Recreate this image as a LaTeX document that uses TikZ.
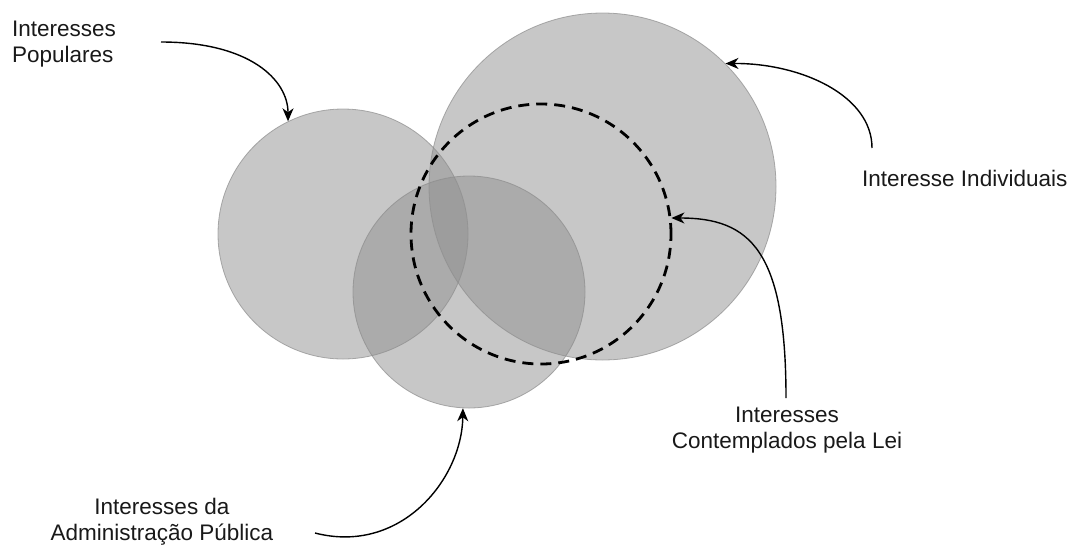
\documentclass[tikz,border=0pt]{standalone}
\usepackage{fontspec}
\setmainfont{Liberation Sans}
\usetikzlibrary{arrows.meta}
\begin{document}
\begin{tikzpicture}[x=1pt,y=-1pt,
  setcircle/.style={circle,inner sep=0pt,fill=black!44,fill opacity=0.5,draw=black!45,draw opacity=0.7,line width=0.8pt},
  lawcircle/.style={circle,inner sep=0pt,draw=black,line width=2.8pt,dash pattern=on 11pt off 7pt},
  lbl/.style={inner sep=0pt,text=black!90,font=\fontsize{22.5}{26}\selectfont},
  pointer/.style={line width=1.4pt,-{Stealth[length=13pt,width=11pt,inset=4pt]}}]
\useasboundingbox (0,0) rectangle (1073,547);
% circles
\node[setcircle,minimum size=250pt] (cpop) at (343,234) {};
\node[setcircle,minimum size=347pt] (cind) at (602.5,186.5) {};
\node[setcircle,minimum size=232pt] (cadm) at (469,292) {};
\node[lawcircle,minimum size=260pt] (clei) at (541,234) {};
% labels
\node[lbl,anchor=west,align=left] (lpop) at (12,44) {Interesses\\Populares};
\node[lbl,anchor=base west] (lind) at (862,186) {Interesse Individuais};
\node[lbl,align=center] (llei) at (787,430) {Interesses\\Contemplados pela Lei};
\node[lbl,align=center] (ladm) at (162,522) {Interesses da\\Administração Pública};
% arrow start points
\coordinate (spop) at (161,42);
\coordinate (sind) at (872,148);
\coordinate (slei) at (786,398);
\coordinate (sadm) at (315,533);
% connectors
\draw[pointer] (spop) .. controls (250,42) and (288,80) .. (cpop.116);
\draw[pointer] (sind) .. controls (872,95) and (800,63) .. (cind.45);
\draw[pointer] (slei) .. controls (786,250) and (750,218) .. (clei.7);
\draw[pointer] (sadm) .. controls (400,555) and (462,480) .. (cadm.-93);
\end{tikzpicture}
\end{document}
